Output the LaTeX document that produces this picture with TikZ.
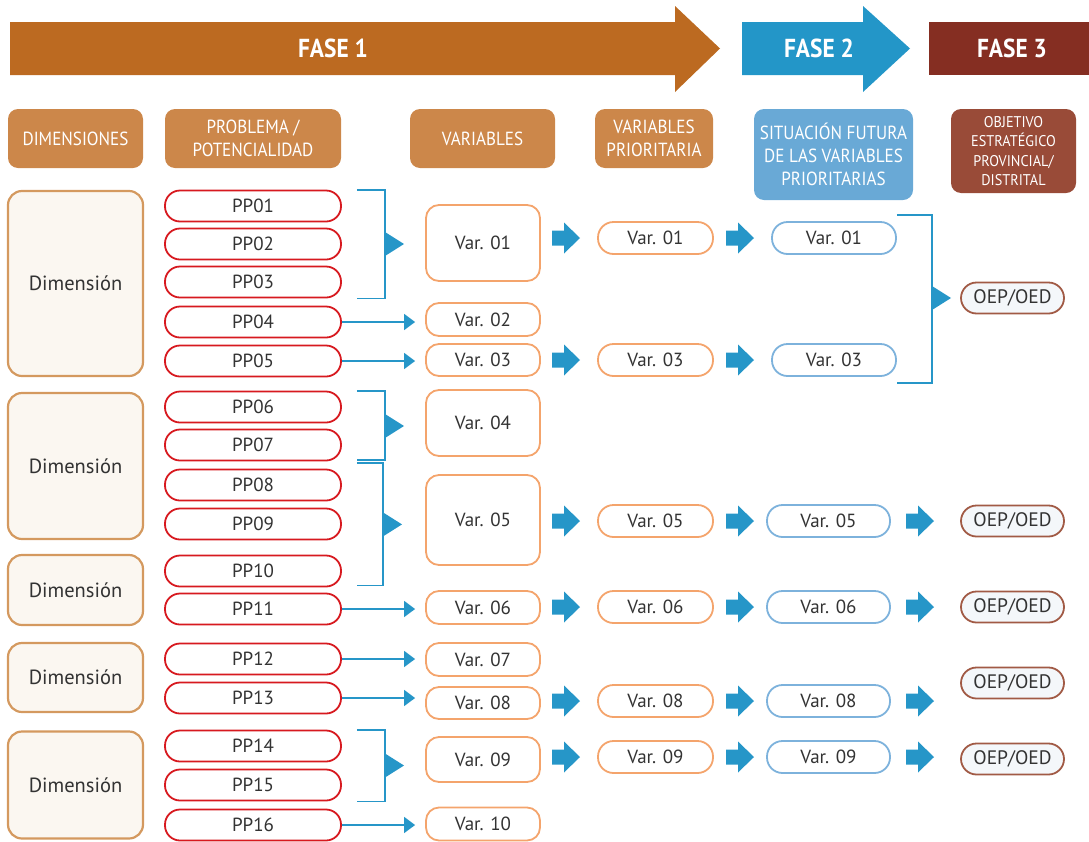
\documentclass[tikz,border=0pt]{standalone}
\usepackage{fontspec}
\setmainfont{PT Sans}
\newfontfamily\condfont[FakeStretch=0.9]{PT Sans}
\newfontfamily\smallcond[FakeStretch=0.92]{PT Sans}
\usetikzlibrary{arrows.meta,calc}
\definecolor{faseA}{HTML}{BC6A21}
\definecolor{faseB}{HTML}{2396C8}
\definecolor{faseC}{HTML}{852E22}
\definecolor{hdrorange}{HTML}{CC874A}
\definecolor{hdrblue}{HTML}{69A9D6}
\definecolor{hdrbrown}{HTML}{994B38}
\definecolor{dimbr}{HTML}{D4995F}
\definecolor{dimfill}{HTML}{FBF7F1}
\definecolor{ppred}{HTML}{D7191F}
\definecolor{varor}{HTML}{F4A46C}
\definecolor{sitblue}{HTML}{7DB2DC}
\definecolor{oepbr}{HTML}{A15A45}
\definecolor{oepfill}{HTML}{F4F7FA}
\definecolor{arrblue}{HTML}{2696C8}
\definecolor{txt}{HTML}{333333}
\tikzset{
  hdr/.style={rounded corners=10pt, text=white, align=center, inner sep=0pt,
    font=\condfont\fontsize{19}{23}\selectfont},
  fasetxt/.style={text=white, font=\condfont\bfseries\fontsize{26}{28}\selectfont},
  dimbox/.style={draw=dimbr, fill=dimfill, line width=2.2pt, rounded corners=14pt,
    minimum width=135pt, text=txt, font=\fontsize{20.5}{22}\selectfont, inner sep=0pt},
  ppbox/.style={draw=ppred, fill=white, line width=1.8pt, rounded corners=15pt,
    minimum width=176pt, minimum height=31pt, text=txt, inner sep=0pt,
    font=\fontsize{19}{21}\selectfont},
  varbox/.style={draw=varor, fill=white, line width=1.8pt, rounded corners=13pt,
    minimum width=114pt, text=txt, inner sep=0pt, font=\fontsize{19}{21}\selectfont},
  priobox/.style={draw=varor, fill=white, line width=1.8pt, rounded corners=15.5pt,
    minimum width=115pt, minimum height=32pt, text=txt, inner sep=0pt,
    font=\fontsize{19}{21}\selectfont},
  sitbox/.style={draw=sitblue, fill=white, line width=1.8pt, rounded corners=15.5pt,
    minimum height=32pt, text=txt, inner sep=0pt, font=\fontsize{19}{21}\selectfont},
  oepbox/.style={draw=oepbr, fill=oepfill, line width=1.8pt, rounded corners=15.5pt,
    minimum width=103pt, minimum height=31pt, text=txt, inner sep=0pt,
    font=\fontsize{19.5}{21}\selectfont},
  conn/.style={draw=arrblue, line width=1.5pt, shorten >=10pt,
    -{Triangle[length=11pt,width=16pt]}},
  brk/.style={draw=arrblue, line width=1.8pt},
  blk/.pic={\fill[arrblue] (-14,-7.5) -- (-2,-7.5) -- (-2,-15.5) -- (14,0) -- (-2,15.5) -- (-2,7.5) -- (-14,7.5) -- cycle;},
  brtri/.pic={\fill[arrblue] (0,-12) -- (19,0) -- (0,12) -- cycle;}
}
\begin{document}
\begin{tikzpicture}[x=1pt,y=-1pt]
\useasboundingbox (0,0) rectangle (1089,841);
% phase arrows
\fill[faseA] (10,22) -- (675,22) -- (675,6) -- (720,48.5) -- (675,92) -- (675,75) -- (10,75) -- cycle;
\node[fasetxt] (f1) at (333,48.5) {FASE 1};
\fill[faseB] (742,22) -- (863,22) -- (863,6) -- (910,48.5) -- (863,92) -- (863,75) -- (742,75) -- cycle;
\node[fasetxt] (f2) at (819,48.5) {FASE 2};
\fill[faseC] (929,22) rectangle (1089,75);
\node[fasetxt] (f3) at (1012,48.5) {FASE 3};
% headers
\node[hdr, fill=hdrorange, minimum width=135pt, minimum height=59pt] (h1) at (75.5,138.5) {DIMENSIONES};
\node[hdr, fill=hdrorange, minimum width=176pt, minimum height=59pt] (h2) at (253,138.5) {PROBLEMA /\\POTENCIALIDAD};
\node[hdr, fill=hdrorange, minimum width=145pt, minimum height=59pt] (h3) at (482.5,138.5) {VARIABLES};
\node[hdr, fill=hdrorange, minimum width=118pt, minimum height=59pt] (h4) at (654,138.5) {VARIABLES\\PRIORITARIA};
\node[hdr, fill=hdrblue, minimum width=159pt, minimum height=91pt] (h5) at (833.5,154.5) {SITUACIÓN FUTURA\\DE LAS VARIABLES\\PRIORITARIAS};
\node[hdr, fill=hdrbrown, minimum width=125pt, minimum height=84pt, font=\smallcond\fontsize{15.5}{19.5}\selectfont] (h6) at (1013.5,151) {OBJETIVO\\ESTRATÉGICO\\PROVINCIAL/\\DISTRITAL};
% dimension boxes
\node[dimbox, minimum height=185pt] (d1) at (75.5,283.5) {Dimensión};
\node[dimbox, minimum height=146pt] (d2) at (75.5,466) {Dimensión};
\node[dimbox, minimum height=70pt] (d3) at (75.5,590) {Dimensión};
\node[dimbox, minimum height=69pt] (d4) at (75.5,677.5) {Dimensión};
\node[dimbox, minimum height=107pt] (d5) at (75.5,785) {Dimensión};
% problem boxes
\node[ppbox] (pp1) at (253,206) {PP01};
\node[ppbox] (pp2) at (253,244) {PP02};
\node[ppbox] (pp3) at (253,282) {PP03};
\node[ppbox] (pp4) at (253,322) {PP04};
\node[ppbox] (pp5) at (253,361) {PP05};
\node[ppbox] (pp6) at (253,407) {PP06};
\node[ppbox] (pp7) at (253,445) {PP07};
\node[ppbox] (pp8) at (253,485) {PP08};
\node[ppbox] (pp9) at (253,524) {PP09};
\node[ppbox] (pp10) at (253,571) {PP10};
\node[ppbox] (pp11) at (253,609) {PP11};
\node[ppbox] (pp12) at (253,659) {PP12};
\node[ppbox] (pp13) at (253,698) {PP13};
\node[ppbox] (pp14) at (253,746) {PP14};
\node[ppbox] (pp15) at (253,785) {PP15};
\node[ppbox] (pp16) at (253,825) {PP16};
% variables
\node[varbox, minimum height=76pt] (v1) at (483,243) {Var. 01};
\node[varbox, minimum height=33pt] (v2) at (483,319.5) {Var. 02};
\node[varbox, minimum height=32pt] (v3) at (483,360) {Var. 03};
\node[varbox, minimum height=66pt] (v4) at (483,423) {Var. 04};
\node[varbox, minimum height=90pt] (v5) at (483,520) {Var. 05};
\node[varbox, minimum height=33pt] (v6) at (483,607.5) {Var. 06};
\node[varbox, minimum height=33pt] (v7) at (483,659.5) {Var. 07};
\node[varbox, minimum height=32pt] (v8) at (483,703) {Var. 08};
\node[varbox, minimum height=45pt] (v9) at (483,759.5) {Var. 09};
\node[varbox, minimum height=33pt] (v10) at (483,824) {Var. 10};
% priority
\node[priobox] (p1) at (655.5,238) {Var. 01};
\node[priobox] (p3) at (655.5,360) {Var. 03};
\node[priobox] (p5) at (655.5,521) {Var. 05};
\node[priobox] (p6) at (655.5,607) {Var. 06};
\node[priobox] (p8) at (655.5,701) {Var. 08};
\node[priobox] (p9) at (655.5,757) {Var. 09};
% future situation
\node[sitbox, minimum width=124pt] (s1) at (834,238) {Var. 01};
\node[sitbox, minimum width=124pt] (s3) at (834,360) {Var. 03};
\node[sitbox, minimum width=123pt] (s5) at (828.5,521) {Var. 05};
\node[sitbox, minimum width=123pt] (s6) at (828.5,607) {Var. 06};
\node[sitbox, minimum width=123pt] (s8) at (828.5,701) {Var. 08};
\node[sitbox, minimum width=123pt] (s9) at (828.5,757) {Var. 09};
% objectives
\node[oepbox] (o1) at (1012.5,298) {OEP/OED};
\node[oepbox] (o5) at (1012.5,521) {OEP/OED};
\node[oepbox] (o6) at (1012.5,607) {OEP/OED};
\node[oepbox] (o8) at (1012.5,683) {OEP/OED};
\node[oepbox] (o9) at (1012.5,759) {OEP/OED};
% thin arrows
\draw[conn] (pp4.east) -- (pp4.east -| v2.west);
\draw[conn] (pp5.east) -- (pp5.east -| v3.west);
\draw[conn] (pp11.east) -- (pp11.east -| v6.west);
\draw[conn] (pp12.east) -- (pp12.east -| v7.west);
\draw[conn] (pp13.east) -- (pp13.east -| v8.west);
\draw[conn] (pp16.east) -- (pp16.east -| v10.west);
% brackets
\coordinate (bx) at (385,0);
\coordinate (bxx) at (383,0);
\draw[brk] ($(pp1.north east)+(15,0)$) -- (pp1.north -| bx) -- (pp3.south -| bx) -- ($(pp3.south east)+(15,0)$);
\pic at ($(pp1.north -| bx)!0.5!(pp3.south -| bx)$) {brtri};
\draw[brk] ($(pp6.north east)+(15,0)$) -- (pp6.north -| bx) -- ($(pp7.south -| bx)+(0,-1.5)$) -- ($(pp7.south east)+(15,-1.5)$);
\pic at ($(pp6.north -| bx)!0.5!(pp7.south -| bx)$) {brtri};
\draw[brk] ($(pp7.south east)+(15,1.2)$) -- ($(pp7.south -| bxx)+(0,1.2)$) -- ($(pp10.south -| bxx)+(0,-2)$) -- ($(pp10.south east)+(15,-2)$);
\pic at ($(pp7.south -| bxx)!0.5!(pp10.south -| bxx)$) {brtri};
\draw[brk] ($(pp14.north east)+(15,0)$) -- (pp14.north -| bx) -- (pp15.south -| bx) -- ($(pp15.south east)+(15,0)$);
\pic at ($(pp14.north -| bx)!0.5!(pp15.south -| bx)$) {brtri};
\coordinate (rbx) at (932,0);
\draw[brk] ($(s1.north east)+(0,-6)$) -- ($(s1.north -| rbx)+(0,-6)$) -- ($(s3.south -| rbx)+(0,6)$) -- ($(s3.south east)+(0,6)$);
\pic at (o1 -| rbx) {brtri};
% block arrows
\coordinate (xA) at (566,0);
\coordinate (xB) at (740,0);
\coordinate (xC) at (920,0);
\foreach \n in {p1,p3,p5,p6,p8,p9} { \pic at (\n -| xA) {blk}; }
\foreach \n in {s1,s3,s5,s6,s8,s9} { \pic at (\n -| xB) {blk}; }
\foreach \n in {s5,s6,s8,s9} { \pic at (\n -| xC) {blk}; }
\end{tikzpicture}
\end{document}
